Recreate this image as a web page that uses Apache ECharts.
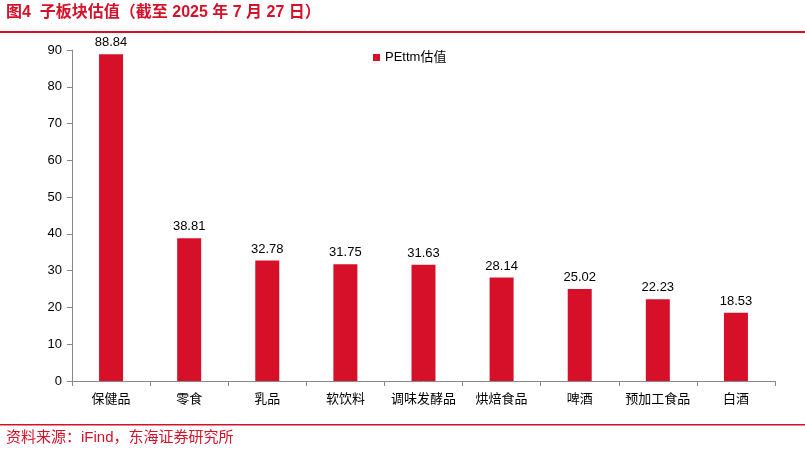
<!DOCTYPE html>
<html><head><meta charset="utf-8">
<script src="https://cdn.jsdelivr.net/npm/echarts@6/dist/echarts.min.js"></script>
<style>html,body{margin:0;padding:0;background:#fff}#c{width:805px;height:456px}</style>
</head><body><div id="c"></div>
<script>
const categories=['保健品','零食','乳品','软饮料','调味发酵品','烘焙食品','啤酒','预加工食品','白酒'];
const values=[88.84,38.81,32.78,31.75,31.63,28.14,25.02,22.23,18.53];
const seriesName='PEttm估值';
const red='#d7102a';
const ff='"Liberation Sans","Noto Sans CJK SC",sans-serif';
const chart=echarts.init(document.getElementById('c'));
chart.setOption({
  animation:false,
  textStyle:{fontFamily:ff},
  graphic:[
    {type:'text',left:6,top:5,style:{text:'图4  子板块估值（截至 2025 年 7 月 27 日）',fill:red,font:'bold 16px '+ff}},
    {type:'rect',shape:{x:0,y:31,width:805,height:2},style:{fill:red}},
    {type:'rect',shape:{x:0,y:424,width:805,height:1.5},style:{fill:red}},
    {type:'text',left:6,top:430,style:{text:'资料来源：iFind，东海证券研究所',fill:red,font:'15px '+ff}}
  ],
  legend:{left:368,top:46,itemWidth:7,itemHeight:7,icon:'rect',textStyle:{fontSize:13,color:'#000',fontFamily:ff},data:[seriesName]},
  grid:{left:72,right:30,top:50,bottom:75},
  xAxis:{type:'category',data:categories,axisLine:{lineStyle:{color:'#888'}},axisTick:{show:true,length:5,lineStyle:{color:'#888'}},axisLabel:{interval:0,color:'#000',fontSize:13,margin:12,fontFamily:ff}},
  yAxis:{type:'value',min:0,max:90,interval:10,splitLine:{show:false},axisLine:{show:true,lineStyle:{color:'#888'}},axisTick:{show:true,length:5,lineStyle:{color:'#888'}},axisLabel:{color:'#000',fontSize:13,margin:10,fontFamily:ff}},
  series:[{name:seriesName,type:'bar',data:values,barWidth:24,itemStyle:{color:red},label:{show:true,position:'top',color:'#000',fontSize:13,fontFamily:ff,formatter:p=>p.value.toFixed(2)}}]
});
</script></body></html>
